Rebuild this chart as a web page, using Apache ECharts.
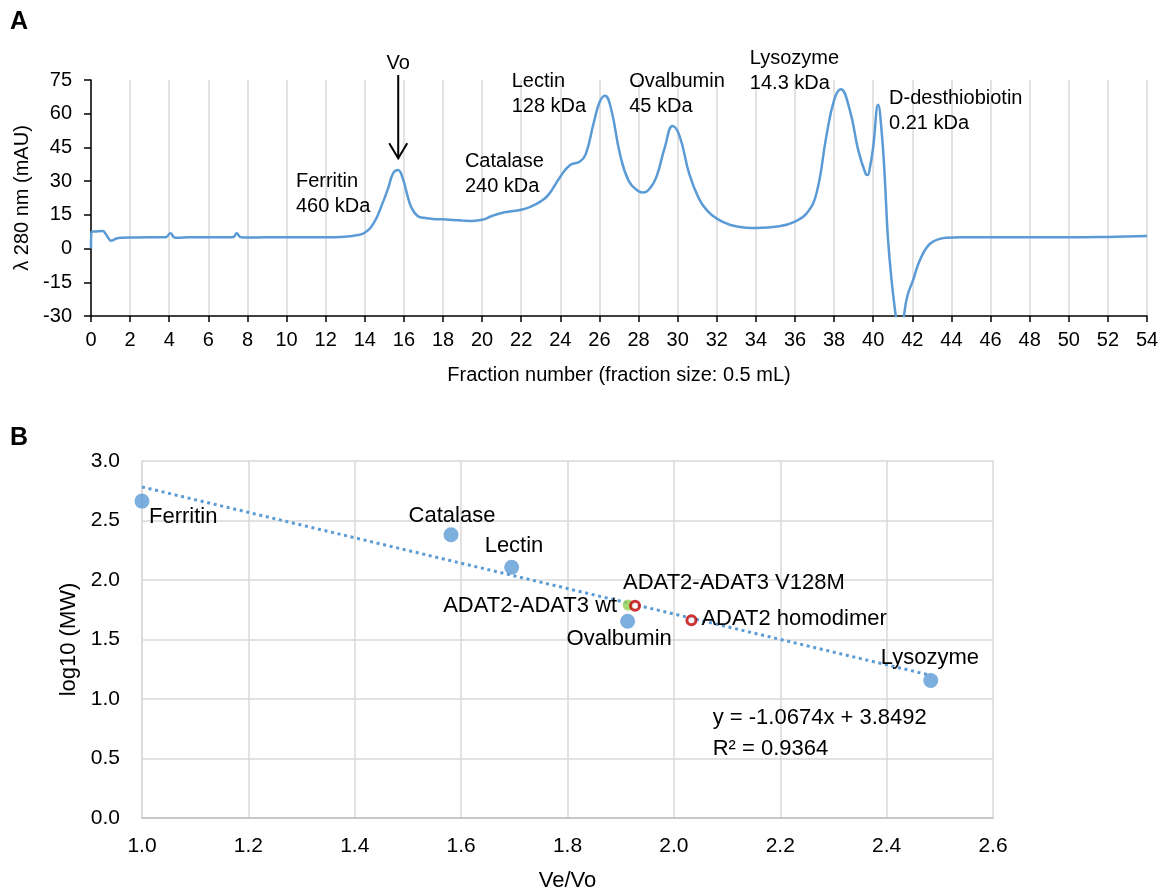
<!DOCTYPE html>
<html>
<head>
<meta charset="utf-8">
<script src="https://cdn.jsdelivr.net/npm/echarts@6/dist/echarts.min.js"></script>
<style>
  html, body { margin: 0; padding: 0; background: #fff; }
  #chart { width: 1166px; height: 893px; }
</style>
</head>
<body>
<div id="chart"></div>
<script>
// ---- Panel A: size-exclusion chromatogram (A280 vs fraction number) ----
const fraction = [
  0, 0.03, 0.2, 0.6, 0.75, 0.9, 1.02, 1.3, 1.6, 2, 3, 3.8, 4.07, 4.25, 4.45, 5, 6, 7, 7.28, 7.45, 7.62, 7.8, 9, 10, 11, 12,
  13, 13.5, 14, 14.5, 14.9, 15.2, 15.45, 15.7, 15.95, 16.2, 16.4, 16.7, 17, 17.5, 18, 19, 19.5, 20, 20.5, 21, 21.5, 22,
  22.5, 23, 23.4, 24, 24.5, 25, 25.3, 25.7, 26, 26.28, 26.6, 27.04, 27.5, 28, 28.25, 28.6, 28.92, 29.35, 29.74, 30.1,
  30.6, 31.1, 31.5, 32, 32.7, 33.5, 34, 35.2, 36, 36.6, 37.1, 37.6, 38, 38.34, 38.8, 39.23, 39.6, 39.71, 39.85, 40,
  40.25, 40.45, 40.6, 40.75, 40.95, 41.15, 41.35, 41.57, 41.75, 42.04, 42.3, 42.55, 42.8, 43.06, 43.4, 43.74, 44.5,
  46, 48, 50, 52, 54
];
const absorbance = [
  0, 7.5, 7.6, 7.8, 6.5, 4.5, 3.5, 4.5, 4.8, 4.9, 5.0, 5.0, 6.8, 5.0, 4.8, 5.0, 5.0, 5.0, 5.1, 6.8, 5.2, 4.9, 5.0, 5.0, 5.0, 5.0,
  5.3, 5.8, 7.0, 12, 20, 27, 33.5, 35, 31, 23, 18, 14.5, 13.7, 13.2, 13.0, 12.5, 12.3, 12.8, 14.5, 15.8, 16.6, 17.3,
  18.7, 21, 24, 32, 37.2, 38.7, 42, 55.7, 65, 68, 62, 42.4, 30, 25.5, 24.9, 27, 32, 45.3, 54.5, 50,
  33, 22, 17, 13.3, 10.5, 9.3, 9.2, 9.9, 12, 15.7, 24.6, 49.8, 66, 70.9, 61.7, 43.9, 33.5, 32.7, 37, 45.3,
  64, 50, 30, 5, -15, -30, -45, -30, -21, -14, -7, -2.1, 1.2, 3.1, 4.3, 4.85, 5.0,
  5.0, 5.0, 5.0, 5.2, 5.6
];

// peak annotations: text and the data point where each text block starts (left, top)
const peakTexts = ['Ferritin\n460 kDa', 'Catalase\n240 kDa', 'Lectin\n128 kDa', 'Ovalbumin\n45 kDa', 'Lysozyme\n14.3 kDa', 'D-desthiobiotin\n0.21 kDa'];
const peakTextAt = [[10.48, 35.3], [19.12, 44.1], [21.51, 79.7], [27.52, 79.7], [33.69, 90.3], [40.81, 72.4]];
// void volume marker: fraction, label height, arrow top, arrow tip
const voidFraction = 15.71;
const voidArrow = [82.5, 77.2, 40.2];

// ---- Panel B: calibration, log10(MW) vs Ve/Vo ----
const stdNames = ['Ferritin', 'Catalase', 'Lectin', 'Ovalbumin', 'Lysozyme'];
const stdVeVo = [1.0, 1.581, 1.695, 1.913, 2.483];
const stdLogMW = [2.663, 2.380, 2.107, 1.653, 1.155];
const wtName = 'ADAT2-ADAT3 wt';
const wtPoint = [1.914, 1.79];
const mutNames = ['ADAT2-ADAT3 V128M', 'ADAT2 homodimer'];
const mutVeVo = [1.927, 2.033];
const mutLogMW = [1.784, 1.662];
const fitSlope = -1.0674;
const fitIntercept = 3.8492;
const fitR2 = 0.9364;
const fitTextAt = [2.073, 0.975];

const FONT = '"Liberation Sans", Arial, sans-serif';
const BLUE = '#5b9bd5';
const GRID = '#d9d9d9';

// label placement for each named point: [dx, dy] from the marker centre and alignment
const labelPlace = {
  'Ferritin': [7, 16, 'left'],
  'Catalase': [1, -19, 'center'],
  'Lectin': [-27, -21, 'left'],
  'Ovalbumin': [-61, 18, 'left'],
  'Lysozyme': [-50, -23, 'left'],
  'ADAT2-ADAT3 wt': [-11, 1, 'right'],
  'ADAT2-ADAT3 V128M': [-12, -23, 'left'],
  'ADAT2 homodimer': [10, -1, 'left']
};

const fmt1 = v => Number(v).toFixed(1);
const fitX0 = Math.min(...stdVeVo), fitX1 = Math.max(...stdVeVo);

const chart = echarts.init(document.getElementById('chart'), null, { renderer: 'canvas' });

chart.setOption({
  animation: false,
  backgroundColor: '#fff',
  textStyle: { fontFamily: FONT },
  grid: [
    { left: 91, right: 19, top: 80, height: 236 },
    { left: 142, right: 173, top: 461, height: 357 }
  ],
  xAxis: [
    {
      gridIndex: 0, type: 'value', min: 0, max: 54, interval: 2,
      axisLine: { onZero: false, lineStyle: { color: '#000', width: 1.5 } },
      axisTick: { show: true, length: 6, lineStyle: { color: '#000', width: 1.5 } },
      splitLine: { show: true, lineStyle: { color: GRID, width: 1.5 } },
      axisLabel: { color: '#000', fontSize: 20, fontFamily: FONT, margin: 14 },
      name: 'Fraction number (fraction size: 0.5 mL)', nameLocation: 'middle', nameGap: 49,
      nameTextStyle: { color: '#000', fontSize: 20, fontFamily: FONT }
    },
    {
      gridIndex: 1, type: 'value', min: 1.0, max: 2.6, interval: 0.2,
      axisLine: { onZero: false, lineStyle: { color: '#bfbfbf', width: 1.5 } },
      axisTick: { show: false },
      splitLine: { show: true, lineStyle: { color: GRID, width: 1.5 } },
      axisLabel: { color: '#000', fontSize: 21, fontFamily: FONT, margin: 18, formatter: fmt1 },
      name: 'Ve/Vo', nameLocation: 'middle', nameGap: 52,
      nameTextStyle: { color: '#000', fontSize: 22, fontFamily: FONT }
    }
  ],
  yAxis: [
    {
      gridIndex: 0, type: 'value', min: -30, max: 75, interval: 15,
      axisLine: { show: true, onZero: false, lineStyle: { color: '#000', width: 1.5 } },
      axisTick: { show: true, length: 7, lineStyle: { color: '#000', width: 1.5 } },
      splitLine: { show: false },
      axisLabel: { color: '#000', fontSize: 20, fontFamily: FONT, margin: 19 },
      name: 'λ 280 nm (mAU)', nameLocation: 'middle', nameRotate: 90, nameGap: 43,
      nameTextStyle: { color: '#000', fontSize: 20, fontFamily: FONT }
    },
    {
      gridIndex: 1, type: 'value', min: 0, max: 3, interval: 0.5,
      axisLine: { show: true, onZero: false, lineStyle: { color: GRID, width: 1.5 } },
      axisTick: { show: false },
      splitLine: { show: true, lineStyle: { color: GRID, width: 1.5 } },
      axisLabel: { color: '#000', fontSize: 21, fontFamily: FONT, margin: 22, formatter: fmt1 },
      name: 'log10 (MW)', nameLocation: 'middle', nameRotate: 90, nameGap: 62,
      nameTextStyle: { color: '#000', fontSize: 22, fontFamily: FONT }
    }
  ],
  series: [
    {
      type: 'line', xAxisIndex: 0, yAxisIndex: 0,
      data: fraction.map((f, i) => [f, absorbance[i]]),
      showSymbol: false, smooth: 0.45, clip: true,
      lineStyle: { color: BLUE, width: 2.5 }
    },
    {
      type: 'line', xAxisIndex: 1, yAxisIndex: 1,
      data: [[fitX0, fitSlope * fitX0 + fitIntercept], [fitX1, fitSlope * fitX1 + fitIntercept]],
      showSymbol: false, silent: true, z: 2,
      lineStyle: { color: BLUE, width: 3, type: [3, 3.7] }
    },
    {
      type: 'scatter', xAxisIndex: 1, yAxisIndex: 1, z: 3,
      symbol: 'circle', symbolSize: 15,
      itemStyle: { color: BLUE },
      data: stdNames.map((n, i) => ({ name: n, value: [stdVeVo[i], stdLogMW[i]] }))
    },
    {
      type: 'scatter', xAxisIndex: 1, yAxisIndex: 1, z: 4,
      symbol: 'circle', symbolSize: 11,
      itemStyle: { color: '#92d050' },
      data: [{ name: wtName, value: wtPoint }]
    },
    {
      type: 'scatter', xAxisIndex: 1, yAxisIndex: 1, z: 5,
      symbol: 'circle', symbolSize: 9,
      itemStyle: { color: '#ffffff', borderColor: '#c00000', borderWidth: 3 },
      data: mutNames.map((n, i) => ({ name: n, value: [mutVeVo[i], mutLogMW[i]] }))
    }
  ]
});

// annotations placed through the axes' own coordinate conversion
const toA = p => chart.convertToPixel({ gridIndex: 0 }, p);
const toB = p => chart.convertToPixel({ gridIndex: 1 }, p);
const graphics = [];

graphics.push({ type: 'text', style: { text: 'A', x: 10, y: 22, fontSize: 25, fontWeight: 'bold', fontFamily: FONT, fill: '#000', verticalAlign: 'middle' } });
graphics.push({ type: 'text', style: { text: 'B', x: 10, y: 438, fontSize: 25, fontWeight: 'bold', fontFamily: FONT, fill: '#000', verticalAlign: 'middle' } });

peakTexts.forEach((t, i) => {
  const p = toA(peakTextAt[i]);
  graphics.push({ type: 'text', style: { text: t, x: p[0], y: p[1], fontSize: 20, lineHeight: 25, fontFamily: FONT, fill: '#000', align: 'left', verticalAlign: 'top' } });
});

const voLabel = toA([voidFraction, voidArrow[0]]);
const voTop = toA([voidFraction, voidArrow[1]]);
const voTip = toA([voidFraction, voidArrow[2]]);
graphics.push({ type: 'text', style: { text: 'Vo', x: voLabel[0], y: voLabel[1], fontSize: 20, fontFamily: FONT, fill: '#000', align: 'center', verticalAlign: 'middle' } });
graphics.push({ type: 'line', shape: { x1: voTop[0], y1: voTop[1], x2: voTip[0], y2: voTip[1] }, style: { stroke: '#000', lineWidth: 2 } });
graphics.push({ type: 'polyline', shape: { points: [[voTip[0] - 9, voTip[1] - 15], [voTip[0], voTip[1]], [voTip[0] + 9, voTip[1] - 15]] }, style: { stroke: '#000', lineWidth: 2, fill: null } });

// point names in panel B
function nameAt(name, value) {
  const c = toB(value);
  const p = labelPlace[name];
  graphics.push({ type: 'text', z: 10, style: { text: name, x: c[0] + p[0], y: c[1] + p[1], fontSize: 22, fontFamily: FONT, fill: '#000', align: p[2], verticalAlign: 'middle' } });
}
stdNames.forEach((n, i) => nameAt(n, [stdVeVo[i], stdLogMW[i]]));
nameAt(wtName, wtPoint);
mutNames.forEach((n, i) => nameAt(n, [mutVeVo[i], mutLogMW[i]]));

const eq = toB(fitTextAt);
const sign = fitIntercept >= 0 ? '+' : '-';
graphics.push({
  type: 'text',
  style: {
    text: 'y = ' + fitSlope.toFixed(4) + 'x ' + sign + ' ' + Math.abs(fitIntercept).toFixed(4) + '\nR² = ' + fitR2.toFixed(4),
    x: eq[0], y: eq[1], fontSize: 22, lineHeight: 31, fontFamily: FONT, fill: '#000', align: 'left', verticalAlign: 'top'
  }
});

chart.setOption({ graphic: graphics });
</script>
</body>
</html>
